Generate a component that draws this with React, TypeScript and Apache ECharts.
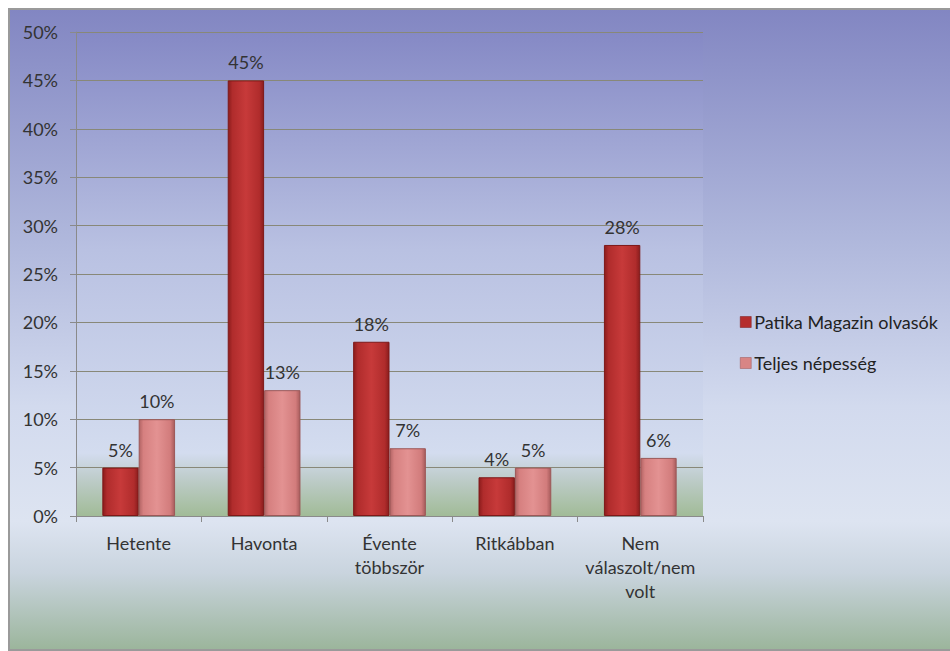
import React, { useEffect, useRef } from "react";
import * as echarts from "echarts";

const categories = ["Hetente", "Havonta", "Évente\ntöbbször", "Ritkábban", "Nem\nválaszolt/nem\nvolt"];
const seriesNames = ["Patika Magazin olvasók", "Teljes népesség"];
const readers = [5, 45, 18, 4, 28];
const population = [10, 13, 7, 5, 6];
const yTicks = { min: 0, max: 50, interval: 5 };

const FONT = "Lato, 'Open Sans', sans-serif";

const darkFill = new echarts.graphic.LinearGradient(0, 0, 1, 0, [
  { offset: 0, color: "#8c1c1c" },
  { offset: 0.12, color: "#b02c2c" },
  { offset: 0.5, color: "#c73a3a" },
  { offset: 0.88, color: "#b02c2c" },
  { offset: 1, color: "#8a1d1d" },
]);
const lightFill = new echarts.graphic.LinearGradient(0, 0, 1, 0, [
  { offset: 0, color: "#b26464" },
  { offset: 0.12, color: "#d68080" },
  { offset: 0.5, color: "#e39292" },
  { offset: 0.88, color: "#d27c7c" },
  { offset: 1, color: "#a85c5c" },
]);

export default function App() {
  const ref = useRef<HTMLDivElement>(null);
  useEffect(() => {
    const chart = echarts.init(ref.current!, null, { renderer: "svg" });
    const labelStyle = {
      show: true,
      position: "top",
      distance: 9,
      formatter: "{c}%",
      fontFamily: FONT,
      fontSize: 18,
      color: "#333",
    };
    chart.setOption({
      animation: false,
      backgroundColor: "#ffffff",
      graphic: [
        {
          type: "rect",
          z: -10,
          silent: true,
          shape: { x: 9, y: 9, width: 945, height: 641 },
          style: {
            fill: new echarts.graphic.LinearGradient(0, 0, 0, 1, [
              { offset: 0, color: "#8286c2" },
              { offset: 0.35, color: "#aeb6db" },
              { offset: 0.62, color: "#d2daee" },
              { offset: 0.8, color: "#dde4f1" },
              { offset: 0.88, color: "#c9d4de" },
              { offset: 1, color: "#9bb59b" },
            ]),
            stroke: "#9a9a9a",
            lineWidth: 2,
          },
        },
      ],
      grid: {
        left: 76,
        right: 247,
        top: 32,
        bottom: 135,
        show: true,
        borderWidth: 0,
        backgroundColor: new echarts.graphic.LinearGradient(0, 0, 0, 1, [
          { offset: 0, color: "#8589c5" },
          { offset: 0.45, color: "#b9c1e2" },
          { offset: 0.87, color: "#d3dcef" },
          { offset: 0.92, color: "#bfcdcc" },
          { offset: 1, color: "#a1bb97" },
        ]),
      },
      legend: {
        orient: "vertical",
        left: 735,
        top: 308,
        itemWidth: 11,
        itemHeight: 11,
        itemGap: 23,
        icon: "rect",
        textStyle: { fontFamily: FONT, fontSize: 18, color: "#222", padding: [0, 0, 0, -2] },
        data: [
          { name: seriesNames[0], itemStyle: { color: "#b52d2d", borderColor: "#7a1a1a", borderWidth: 0.5 } },
          { name: seriesNames[1], itemStyle: { color: "#d88585", borderColor: "#9a5555", borderWidth: 0.5 } },
        ],
      },
      xAxis: {
        type: "category",
        data: categories,
        axisLine: { lineStyle: { color: "#8a8a8a", width: 1 } },
        axisTick: { show: true, length: 6, lineStyle: { color: "#8a8a8a" } },
        axisLabel: {
          interval: 0,
          fontFamily: FONT,
          fontSize: 18,
          color: "#333",
          lineHeight: 24,
          margin: 15,
        },
      },
      yAxis: {
        type: "value",
        min: yTicks.min,
        max: yTicks.max,
        interval: yTicks.interval,
        axisLine: { show: true, lineStyle: { color: "#8a8a8a" } },
        axisTick: { show: true, length: 6, lineStyle: { color: "#8a8a8a" } },
        splitLine: { lineStyle: { color: "#888878", width: 1 } },
        axisLabel: {
          formatter: "{value}%",
          fontFamily: FONT,
          fontSize: 18,
          color: "#333",
          margin: 18,
        },
      },
      series: [
        {
          name: seriesNames[0],
          type: "bar",
          data: readers,
          barGap: "0%",
          barCategoryGap: "42%",
          itemStyle: { color: darkFill, borderColor: "#7e1818", borderWidth: 1 },
          label: labelStyle,
        },
        {
          name: seriesNames[1],
          type: "bar",
          data: population,
          itemStyle: { color: lightFill, borderColor: "#9c5858", borderWidth: 1 },
          label: labelStyle,
        },
      ],
    });
    return () => chart.dispose();
  }, []);
  return (
    <div
      ref={ref}
      style={{ position: "absolute", left: 0, top: 0, width: 950, height: 651 }}
    />
  );
}
